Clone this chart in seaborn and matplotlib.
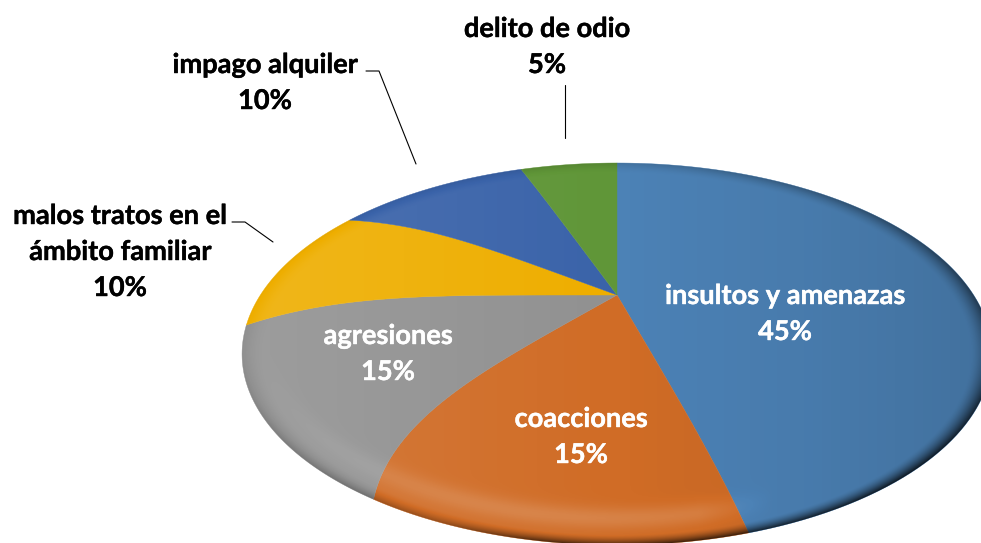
import numpy as np
import matplotlib
matplotlib.use('Agg')
import matplotlib.pyplot as plt
import matplotlib.patheffects as pe
import seaborn as sns
from matplotlib.patches import PathPatch
from matplotlib.path import Path

# data
categories = ['insultos y amenazas', 'coacciones', 'agresiones',
              'malos tratos en el\námbito familiar', 'impago alquiler', 'delito de odio']
percent = [45, 15, 15, 10, 10, 5]
slice_colors = ['#4c82b6', '#d06c26', '#919191', '#eeae00', '#3a63a9', '#609638']

sns.set_theme(style='white')
plt.rcParams['font.family'] = ['Lato', 'DejaVu Sans']

W, H = 981, 543
APEX = (617, 295)
K, SX, SY = 0.309, 356.6, 172.8
CX, CY, A, B = 617, 354, 374, 191

# angle warp of the 3D pie, keyed on degrees clockwise from 12 o'clock
WARP_AT = [0, 162, 216, 270, 306, 342, 360]
WARP_IN = [0, 2, 5, 0, 1, -2, 0]
WARP_RIM = [0, 3, -6, -9.5, -6, -2.3, 0]


def to_screen(x, y):
    # unit disc of the pie -> tilted disc in pixels
    r = np.hypot(x, y)
    th = np.degrees(np.arctan2(x, y)) % 360
    d0 = np.interp(th, WARP_AT, WARP_IN)
    d = d0 + (np.interp(th, WARP_AT, WARP_RIM) - d0) * r ** 3.5
    th = np.radians(th + d)
    x2, y2 = r * np.sin(th), r * np.cos(th)
    den = 1 + K * y2
    return APEX[0] + SX * x2 / den, APEX[1] - SY * y2 / den


def wedge_outline(w, n=120):
    t = np.radians(np.linspace(w.theta1, w.theta2, n))
    r = np.linspace(0, 1, n)
    x = np.concatenate([r * np.cos(t[0]), np.cos(t), r[::-1] * np.cos(t[-1])])
    y = np.concatenate([r * np.sin(t[0]), np.sin(t), r[::-1] * np.sin(t[-1])])
    return np.column_stack(to_screen(x, y))


def light_overlay():
    xx, yy = np.meshgrid(np.arange(W) + 0.5, np.arange(H) + 0.5)
    u, v = (xx - CX) / A, (yy - CY) / B
    d = np.hypot(u, v)
    side = u / np.maximum(d, 1e-6)
    low = np.clip(v / np.maximum(d, 1e-6), 0, 1)
    shade = -0.11 * u - 0.05 * np.clip(u - 0.5, 0, 1)
    # bright band inside the lower rim, wider at the bottom, none on the blue slice
    left = np.clip((0.42 - u) / 0.2, 0, 1)
    centre = 0.935 - 0.075 * low
    width = 0.025 + 0.035 * low
    shade += 0.15 * np.exp(-((d - centre) / width) ** 2) * low ** 1.5 * left
    # rim falls off to dark
    edge = np.clip((d - 0.945) / 0.055, 0, 1) ** 1.6
    weight = 0.12 + 0.55 * low * np.clip((u + 0.7) / 0.5, 0.45, 1) + 0.3 * np.clip(side, 0, 1)
    shade -= edge * np.clip(weight, 0, 0.7)
    rgba = np.zeros((H, W, 4))
    rgba[..., :3] = (shade > 0)[..., None]
    rgba[..., 3] = np.clip(np.abs(shade), 0, 1)
    return rgba


fig = plt.figure(figsize=(W / 100, H / 100), dpi=100)
ax = fig.add_axes([0, 0, 1, 1])
palette = sns.color_palette(slice_colors)
wedges, _ = ax.pie(percent, colors=palette, startangle=90, counterclock=False)
ax.set_aspect('auto')
ax.axis('off')

for w, c in zip(wedges, palette):
    xy = wedge_outline(w)
    w.remove()
    ax.add_patch(PathPatch(Path(xy, closed=False), facecolor=c, edgecolor=c, lw=0.3, zorder=2))

t = np.linspace(0, 2 * np.pi, 720)
rim = np.column_stack(to_screen(np.cos(t), np.sin(t)))
im = ax.imshow(light_overlay(), extent=(0, W, H, 0), aspect='auto', zorder=3, interpolation='bilinear')
im.set_clip_path(PathPatch(Path(rim), transform=ax.transData))
ax.set_xlim(0, W)
ax.set_ylim(H, 0)

# label centres of the first line, px
label_pos = [(785, 296), (581, 419), (388, 336), (120, 216), (265, 65), (547, 29)]
label_col = ['white', 'white', 'white', 'black', 'black', 'black']
for name, val, (x, y), col in zip(categories, percent, label_pos, label_col):
    lines = name.split('\n') + [f'{val}%']
    for i, s in enumerate(lines):
        txt = ax.text(x, y + 36 * i, s, ha='center', va='center', color=col,
                      fontsize=19.6, fontweight='bold', zorder=5)
        txt.set_path_effects([pe.withStroke(linewidth=0.3, foreground=col)])

# leader lines
leaders = [[(366, 71), (379, 71), (416, 164)],
           [(232, 222), (245, 222), (273, 242)],
           [(565, 85), (565, 138)]]
for pts in leaders:
    xs, ys = zip(*pts)
    ax.plot(xs, ys, color='black', lw=0.8, zorder=4)

fig.savefig('out.png', dpi=100)
